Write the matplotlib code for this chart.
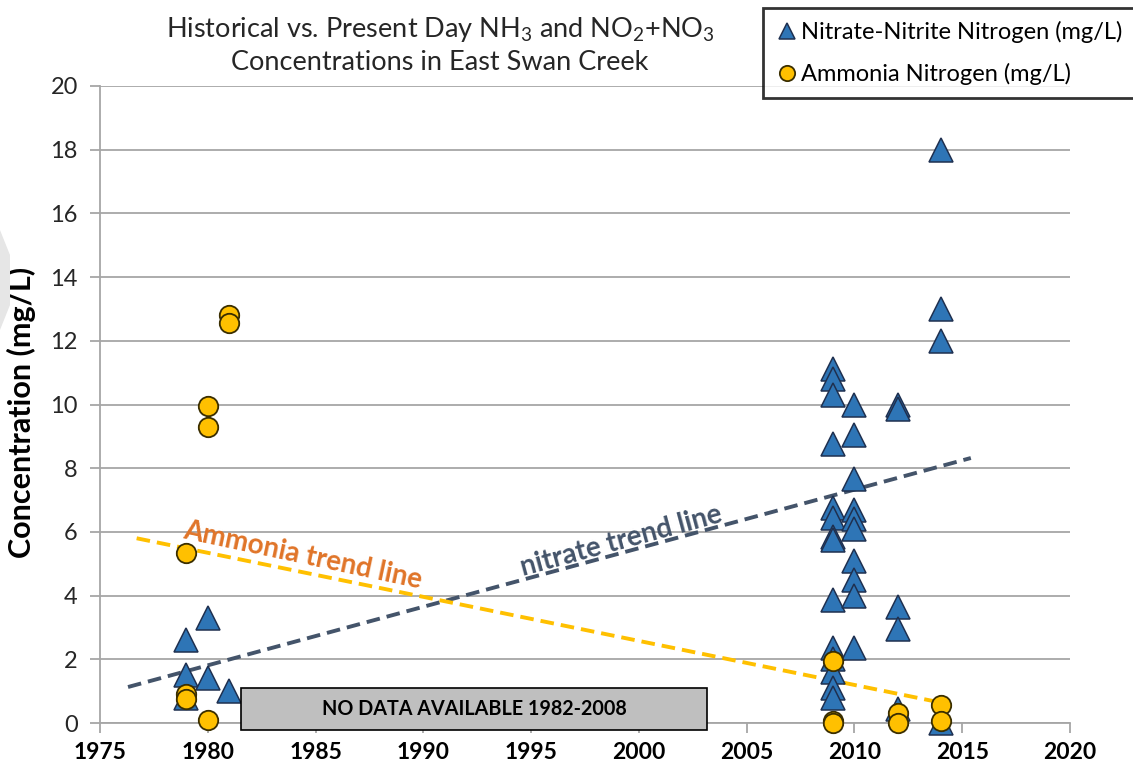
import matplotlib
matplotlib.use("Agg")
import matplotlib.pyplot as plt
from matplotlib.patches import Rectangle, Polygon
import numpy as np

# ---------------- data ----------------
nitrate_years = [1979, 1979, 1979, 1980, 1980, 1981,
                 2009, 2009, 2009, 2009, 2009, 2009, 2009, 2009, 2009, 2009, 2009, 2009, 2009, 2009,
                 2010, 2010, 2010, 2010, 2010, 2010, 2010, 2010, 2010, 2010,
                 2012, 2012, 2012, 2012, 2012,
                 2014, 2014, 2014, 2014]
nitrate_vals = [2.6, 1.5, 0.8, 3.3, 1.4, 1.0,
                11.1, 10.8, 10.3, 8.75, 6.75, 6.45, 5.85, 5.75, 3.85, 2.35, 2.0, 1.6, 1.1, 0.8,
                10.0, 9.05, 7.65, 6.7, 6.4, 6.1, 5.1, 4.5, 4.0, 2.35,
                10.0, 9.85, 3.65, 2.95, 0.45,
                18.0, 13.0, 12.0, 0.0]

ammonia_years = [1979, 1979, 1979, 1980, 1980, 1980, 1981, 1981,
                 2009, 2009, 2009, 2012, 2012, 2014, 2014]
ammonia_vals = [5.35, 0.9, 0.75, 9.95, 9.3, 0.1, 12.8, 12.55,
                1.95, 0.05, 0.0, 0.3, 0.0, 0.55, 0.05]

nitrate_trend_years = [1976.3, 2015.4]
nitrate_trend_vals = [1.13, 8.32]
ammonia_trend_years = [1976.7, 2014.3]
ammonia_trend_vals = [5.8, 0.6]

nodata_span = [1981.55, 2003.15]
nodata_vals = [-0.22, 1.1]

x_ticks = [1975, 1980, 1985, 1990, 1995, 2000, 2005, 2010, 2015, 2020]
y_ticks = [0, 2, 4, 6, 8, 10, 12, 14, 16, 18, 20]

# ---------------- figure ----------------
plt.rcParams['font.family'] = ['Lato', 'DejaVu Sans']
fig = plt.figure(figsize=(11.33, 7.68), dpi=100)
ax = fig.add_axes([100/1133, 45/768, 970/1133, 637/768])

ax.set_xlim(1975, 2020)
ax.set_ylim(0, 20)

ax.set_yticks(y_ticks)
ax.set_xticks(x_ticks)
ax.yaxis.grid(True, color='#A6A6A6', linewidth=1.3, zorder=0)
ax.set_axisbelow(True)
for s in ['top', 'right']:
    ax.spines[s].set_visible(False)
for s in ['left', 'bottom']:
    ax.spines[s].set_color('#A6A6A6')
    ax.spines[s].set_linewidth(1.3)
ax.tick_params(axis='both', direction='out', length=7, color='#A6A6A6', width=1.3)
ax.tick_params(axis='y', labelsize=17, labelcolor='#262626', pad=9)
ax.tick_params(axis='x', labelsize=16.5, pad=7)
for lab in ax.get_xticklabels():
    lab.set_fontweight('bold')

# trend lines
ax.plot(nitrate_trend_years, nitrate_trend_vals, color='#44546A', linestyle=(0, (3.5, 1.8)),
        linewidth=2.8, zorder=2, clip_on=False)
ax.plot(ammonia_trend_years, ammonia_trend_vals, color='#FFC000', linestyle=(0, (3.5, 1.8)),
        linewidth=2.8, zorder=2, clip_on=False)

# markers
ax.plot(nitrate_years, nitrate_vals, linestyle='none', marker='^', markersize=17,
        markerfacecolor='#2E75B6', markeredgecolor='#1F3050', markeredgewidth=1.1,
        zorder=4, clip_on=False, label='Nitrate-Nitrite Nitrogen (mg/L)')
ax.plot(ammonia_years, ammonia_vals, linestyle='none', marker='o', markersize=14,
        markerfacecolor='#FFC000', markeredgecolor='#3A2E00', markeredgewidth=1.3,
        zorder=5, clip_on=False, label='Ammonia Nitrogen (mg/L)')

# trend labels
ax.text(1984.4, 5.25, 'Ammonia trend line', color='#E07428', fontsize=20, fontweight='bold',
        rotation=-12, ha='center', va='center', rotation_mode='anchor', zorder=6)
ax.text(1999.2, 5.7, 'nitrate trend line', color='#44546A', fontsize=20, fontweight='bold',
        rotation=15.2, ha='center', va='center', rotation_mode='anchor', zorder=6)

# no data box
ax.add_patch(Rectangle((nodata_span[0], nodata_vals[0]), nodata_span[1] - nodata_span[0],
                       nodata_vals[1] - nodata_vals[0], facecolor='#BFBFBF', edgecolor='black',
                       linewidth=1.2, zorder=6, clip_on=False))
ax.text((nodata_span[0] + nodata_span[1]) / 2, (nodata_vals[0] + nodata_vals[1]) / 2,
        'NO DATA AVAILABLE 1982-2008', ha='center', va='center', fontsize=14.2,
        fontweight='bold', color='black', zorder=7)

# y label
ax.set_ylabel('Concentration (mg/L)', fontsize=22, fontweight='bold')
ax.yaxis.set_label_coords(-64/970, (723 - 412) / 637)

# title
fig.text(440/1133, 1 - 30/768, r'Historical vs. Present Day NH$_\mathregular{3}$ and NO$_\mathregular{2}$+NO$_\mathregular{3}$',
         ha='center', va='center', fontsize=19.5, color='#262626')
fig.text(440/1133, 1 - 63/768, 'Concentrations in East Swan Creek',
         ha='center', va='center', fontsize=19.5, color='#262626')

# legend
leg = fig.legend(loc='upper left', bbox_to_anchor=(763/1133, 1 - 8/768), fontsize=17,
                 frameon=True, fancybox=False, handletextpad=0.15, handlelength=0.9,
                 borderpad=0.55, labelspacing=0.85, borderaxespad=0)
leg.get_frame().set_edgecolor('black')
leg.get_frame().set_linewidth(2)
for h in leg.legend_handles:
    h.set_markersize(11)

# faint gray shape at left edge
fig.patches.append(Polygon([[0, 1 - 230/768], [10/1133, 1 - 255/768], [10/1133, 1 - 305/768],
                            [0, 1 - 330/768]], closed=True, transform=fig.transFigure,
                           facecolor='#E6E6E6', edgecolor='none'))

fig.savefig('out.png', dpi=100)
